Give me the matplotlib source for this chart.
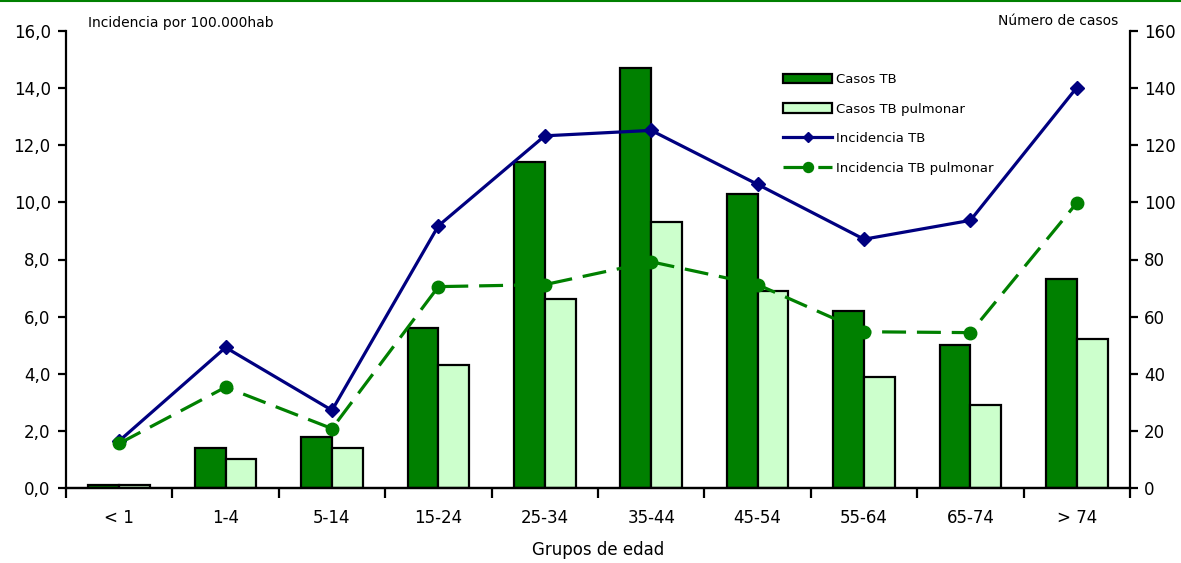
import numpy as np
import matplotlib.pyplot as plt
from matplotlib.lines import Line2D

# datos
grupos = ['< 1', '1-4', '5-14', '15-24', '25-34', '35-44', '45-54', '55-64', '65-74', '> 74']
casos_tb = [1, 14, 18, 56, 114, 147, 103, 62, 50, 73]
casos_pulm = [1, 10, 14, 43, 66, 93, 69, 39, 29, 52]
inc_tb = [1.65, 4.92, 2.72, 9.18, 12.33, 12.52, 10.63, 8.71, 9.37, 14.02]
inc_pulm = [1.56, 3.53, 2.08, 7.05, 7.12, 7.92, 7.12, 5.47, 5.44, 9.98]

verde = '#008000'
verde_claro = '#CCFFCC'
azul = '#000080'

plt.rcParams['font.family'] = 'DejaVu Sans'

fig = plt.figure(figsize=(11.81, 5.63), dpi=100)
ax = fig.add_axes([66 / 1181, 1 - 488 / 563, (1130 - 66) / 1181, (488 - 31) / 563])
ax2 = ax.twinx()

x = np.arange(len(grupos))
w = 0.29
ax2.bar(x - w / 2, casos_tb, w, color=verde, edgecolor='black', linewidth=1.6, label='Casos TB')
ax2.bar(x + w / 2, casos_pulm, w, color=verde_claro, edgecolor='black', linewidth=1.6,
        label='Casos TB pulmonar')

ax.plot(x, inc_tb, color=azul, lw=2.3, marker='D', ms=7, label='Incidencia TB')
ax.plot(x, inc_pulm, color=verde, lw=2.3, ls=(0, (7.5, 3.4)), marker='o', ms=9,
        label='Incidencia TB pulmonar')

ax.set_zorder(ax2.get_zorder() + 1)
ax.patch.set_visible(False)

ax.set_xlim(-0.5, len(grupos) - 0.5)
ax.set_ylim(0, 16)
ax2.set_ylim(0, 160)
ax.set_yticks(np.arange(0, 17, 2))
ax.set_yticklabels([f'{v:.1f}'.replace('.', ',') for v in np.arange(0, 17, 2)])
ax2.set_yticks(np.arange(0, 161, 20))

ax.set_xticks(np.arange(-0.5, len(grupos), 1))
ax.set_xticklabels([])
ax.set_xticks(x, minor=True)
ax.set_xticklabels(grupos, minor=True)
ax.tick_params(axis='x', which='major', direction='out', length=7, width=1.6)
ax.tick_params(axis='x', which='minor', length=0, pad=15, labelsize=12)
ax.tick_params(axis='y', direction='out', length=6, width=1.6, labelsize=12, pad=5)
ax2.tick_params(axis='y', direction='out', length=6, width=1.6, labelsize=12, pad=4)

for a in (ax, ax2):
    a.spines['top'].set_visible(False)
    for s in ('left', 'right', 'bottom'):
        a.spines[s].set_linewidth(1.6)
ax.spines['right'].set_visible(False)
ax2.spines['left'].set_visible(False)

ax.set_xlabel('Grupos de edad', fontsize=12, labelpad=10)

fig.text(88 / 1181, 1 - 23 / 563, 'Incidencia por 100.000hab', fontsize=10, va='center', ha='left')
fig.text(1118 / 1181, 1 - 21 / 563, 'Número de casos', fontsize=10, va='center', ha='right')

h1, l1 = ax2.get_legend_handles_labels()
h2, l2 = ax.get_legend_handles_labels()
leg = ax.legend(h1 + h2, l1 + l2, loc='upper left', bbox_to_anchor=(0.674, 0.908),
                frameon=False, fontsize=9.5, handlelength=3.7, handleheight=0.75,
                handletextpad=0.3, labelspacing=1.25, borderpad=0, borderaxespad=0,
                markerscale=0.8)

fig.add_artist(Line2D([0, 1], [1 - 1 / 563, 1 - 1 / 563], color=verde, lw=1.5,
                      transform=fig.transFigure))

fig.savefig('out.png', dpi=100)
